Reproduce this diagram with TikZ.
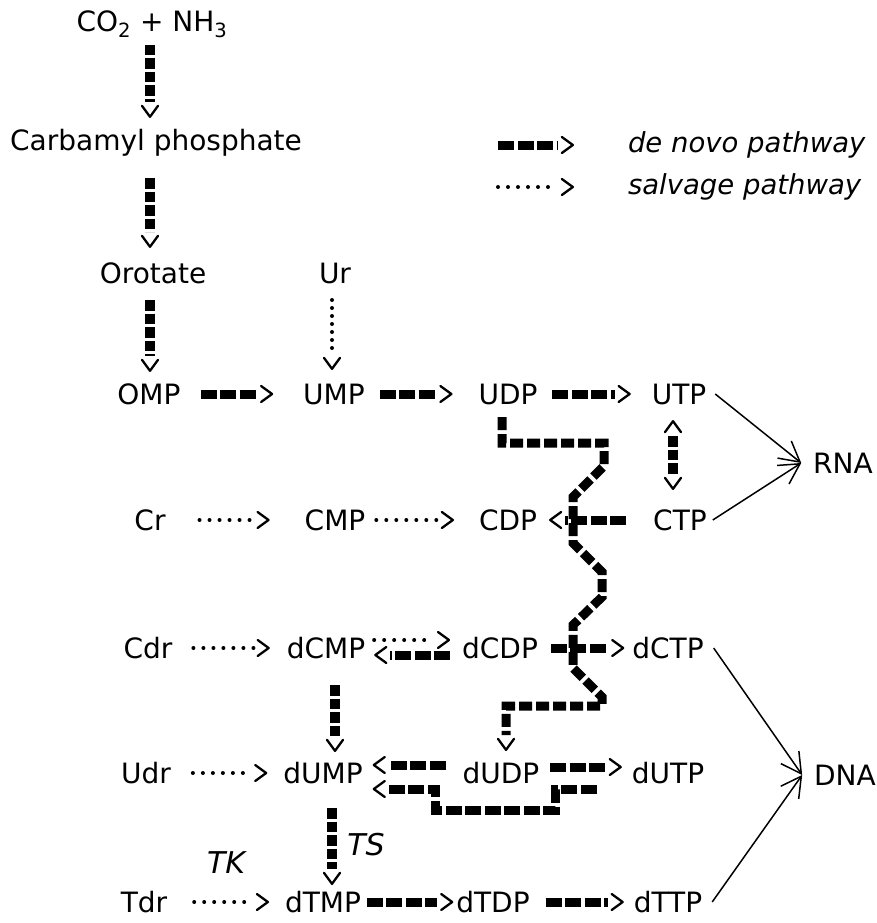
\documentclass[tikz,border=0pt]{standalone}
\usepackage{fontspec}
\setmainfont{DejaVu Sans}
\usetikzlibrary{arrows.meta,decorations.markings}
\tikzset{
  lbl/.style={anchor=base, inner sep=0pt, outer sep=0pt, text height=20pt, text depth=0pt,
              font=\fontsize{28}{30}\selectfont},
  leg/.style={anchor=base west, inner sep=0pt, outer sep=0pt, font=\fontsize{27.5}{30}\selectfont\itshape},
  enz/.style={inner sep=0pt, outer sep=0pt, font=\fontsize{30}{32}\selectfont\itshape},
  chev/.style={shorten >=16pt, postaction={decorate},
     decoration={markings, mark=at position 1 with {\pgfsetdash{}{0pt}\arrow{Straight Barb[length=11pt,width=16pt,line width=2.3pt,round]}}}},
  chevb/.style={shorten >=16pt, shorten <=16pt, postaction={decorate},
     decoration={markings,
       mark=at position 0 with {\pgfsetdash{}{0pt}\arrowreversed{Straight Barb[length=11pt,width=16pt,line width=2.3pt,round]}},
       mark=at position 1 with {\pgfsetdash{}{0pt}\arrow{Straight Barb[length=11pt,width=16pt,line width=2.3pt,round]}}}},
  dnv/.style={line width=9pt, dash pattern=on 16pt off 3.5pt, chev},
  dnvv/.style={line width=10pt, dash pattern=on 10.5pt off 3pt, chev},
  dnvb/.style={line width=10pt, dash pattern=on 10.5pt off 3pt, chevb},
  dnw/.style={line width=9pt, dash pattern=on 13pt off 4pt, chev},
  slv/.style={line width=4pt, line cap=round, dash pattern=on 0pt off 10pt, chev},
  slvv/.style={line width=4pt, line cap=round, dash pattern=on 0pt off 8pt, chev},
  syn/.style={line width=1.5pt, -{Straight Barb[length=20pt,width=22pt,line width=1.5pt]}},
}
\begin{document}
\begin{tikzpicture}[x=1pt,y=-1pt]
\useasboundingbox (0,0) rectangle (877,923);
% top
\node[lbl] (CO2) at (152,32) {CO\textsubscript{2} + NH\textsubscript{3}};
\node[lbl] (Carb) at (156,150) {Carbamyl phosphate};
\node[lbl] (Oro) at (153,283) {Orotate};
\node[lbl] (Ur) at (335,283) {Ur};
% legend
\coordinate (d1) at (498,145); \coordinate (d2) at (574,145);
\coordinate (s1) at (498,187); \coordinate (s2) at (574,187);
\node[leg] (leg1) at (628,152) {de novo pathway};
\node[leg] (leg2) at (628,194) {salvage pathway};
% row 1
\node[lbl] (OMP) at (149,404) {OMP};
\node[lbl] (UMP) at (334,404) {UMP};
\node[lbl] (UDP) at (508,404) {UDP};
\node[lbl] (UTP) at (679,404) {UTP};
\node[lbl] (RNA) at (843,473) {RNA};
% row 2
\node[lbl] (Cr) at (150,530) {Cr};
\node[lbl] (CMP) at (335,530) {CMP};
\node[lbl] (CDP) at (508,530) {CDP};
\node[lbl] (CTP) at (680,530) {CTP};
% row 3
\node[lbl] (Cdr) at (148,658) {Cdr};
\node[lbl] (dCMP) at (326,658) {dCMP};
\node[lbl] (dCDP) at (500,658) {dCDP};
\node[lbl] (dCTP) at (668,658) {dCTP};
% row 4
\node[lbl] (Udr) at (146,783) {Udr};
\node[lbl] (dUMP) at (323,783) {dUMP};
\node[lbl] (dUDP) at (501,783) {dUDP};
\node[lbl] (dUTP) at (668,783) {dUTP};
\node[lbl] (DNA) at (845,785) {DNA};
% row 5
\node[lbl] (Tdr) at (144,912) {Tdr};
\node[lbl] (dTMP) at (323,912) {dTMP};
\node[lbl] (dTDP) at (493,912) {dTDP};
\node[lbl] (dTTP) at (668,912) {dTTP};
% enzymes
\node[enz] (TS) at (366,845) {TS};
\node[enz] (TK) at (226,863) {TK};

% legend arrows
\draw[dnv] (d1) -- (d2);
\draw[slv] (s1) -- (s2);

% vertical de novo chain
\draw[dnvv] ([xshift=-2pt,yshift=-13pt]CO2.south) -- ([xshift=-6pt,yshift=12pt]Carb.north);
\draw[dnvv] ([xshift=-6pt,yshift=-28pt]Carb.south) -- ([xshift=-3pt,yshift=15pt]Oro.north);
\draw[dnvv] ([xshift=-3pt,yshift=-17pt]Oro.south) -- ([xshift=1pt,yshift=12pt]OMP.north);
\draw[slvv] ([xshift=-3pt,yshift=-17pt]Ur.south) -- ([xshift=-2pt,yshift=14pt]UMP.north);

% row 1
\draw[dnv] ([xshift=20pt]OMP.east) -- ([xshift=-30pt]UMP.west);
\draw[dnv] ([xshift=15pt]UMP.east) -- ([xshift=-26pt]UDP.west);
\draw[dnv] ([xshift=15pt]UDP.east) -- ([xshift=-21pt]UTP.west);
\draw[dnvb] ([xshift=-6pt,yshift=-16pt]UTP.south) -- ([xshift=-7pt,yshift=20pt]CTP.north);

% row 2
\draw[slv] ([xshift=34pt]Cr.east) -- ([xshift=-35pt]CMP.west);
\draw[slv] ([xshift=11pt]CMP.east) -- ([xshift=-25pt]CDP.west);
\draw[dnv] ([xshift=-27pt]CTP.west) -- ([xshift=12pt]CDP.east);

% row 3
\draw[slv] ([xshift=21pt]Cdr.east) -- ([xshift=-17pt]dCMP.west);
\draw[slv] ([xshift=9pt,yshift=8pt]dCMP.east) -- ([xshift=-12pt,yshift=8pt]dCDP.west);
\draw[dnv] ([xshift=-12pt,yshift=-7pt]dCDP.west) -- ([xshift=9pt,yshift=-7pt]dCMP.east);
\draw[dnv] ([xshift=13pt]dCDP.east) -- ([xshift=-8pt]dCTP.west);
\draw[dnvv] ([xshift=9pt,yshift=-27pt]dCMP.south) -- ([xshift=12pt,yshift=11pt]dUMP.north);

% UDP -> dUDP (wavy)
\draw[dnw] ([xshift=-6pt,yshift=-13pt]UDP.south) -- ++(0,26) -- ++(102,0) -- ++(0,23)
  -- ++(-31,31) -- ++(0,46) -- ++(29,29) -- ++(0,25) -- ++(-29,28) -- ++(0,43)
  -- ++(29,29) -- ++(0,9) -| ([xshift=5pt,yshift=12pt]dUDP.north);

% row 4
\draw[slv] ([xshift=22pt]Udr.east) -- ([xshift=-16pt]dUMP.west);
\draw[dnv] ([xshift=-17pt,yshift=8pt]dUDP.west) -- ([xshift=10pt,yshift=8pt]dUMP.east);
\draw[dnv] ([xshift=11pt,yshift=6pt]dUDP.east) -- ([xshift=-10pt,yshift=6pt]dUTP.west);
\draw[dnv] ([xshift=-35pt,yshift=-16pt]dUTP.west) -- ++(-41,0) -- ++(0,21) -- ++(-120,0)
  -- ++(0,-21) -- ([xshift=10pt,yshift=-16pt]dUMP.east);
\draw[dnvv] ([xshift=9pt,yshift=-25pt]dUMP.south) -- ([xshift=9pt,yshift=7pt]dTMP.north);

% row 5
\draw[slv] ([xshift=27pt]Tdr.east) -- ([xshift=-16pt]dTMP.west);
\draw[dnv] ([xshift=6pt]dTMP.east) -- ([xshift=-3pt]dTDP.west);
\draw[dnv] ([xshift=16pt]dTDP.east) -- ([xshift=-10pt]dTTP.west);

% to RNA / DNA
\draw[syn] ([xshift=9pt]UTP.east) -- ([xshift=-12pt]RNA.west);
\draw[syn] ([xshift=6pt]CTP.east) -- ([xshift=-12pt]RNA.west);
\draw[syn] ([xshift=10pt]dCTP.east) -- ([xshift=-12pt]DNA.west);
\draw[syn] ([xshift=10pt]dTTP.east) -- ([xshift=-12pt]DNA.west);
\end{tikzpicture}
\end{document}
